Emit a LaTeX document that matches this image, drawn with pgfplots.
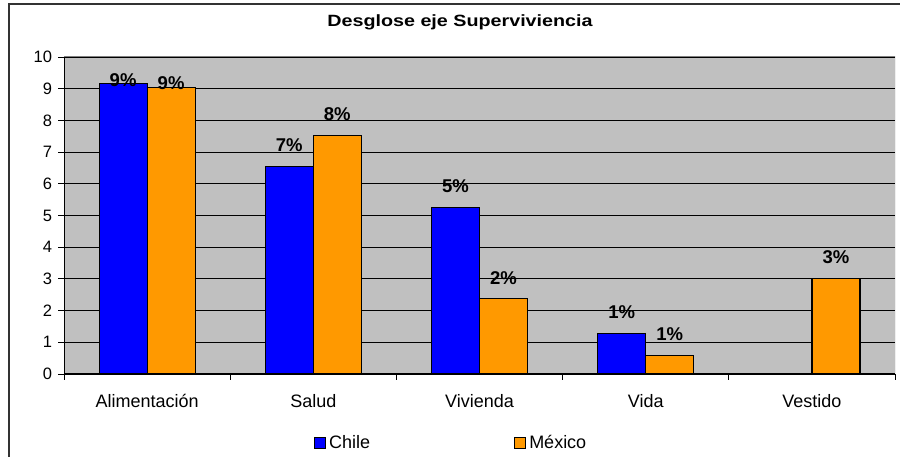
\documentclass[border=0pt]{standalone}
\usepackage{pgfplots}
\pgfplotsset{compat=1.18}
\usepackage{pgfplotstable}
\usepackage{fontspec}
\setmainfont{Liberation Sans}
\newfontfamily\titlefont{Liberation Sans}[FakeStretch=1.21]
\definecolor{chile}{HTML}{0000FF}
\definecolor{mexico}{HTML}{FF9900}
\definecolor{plotbg}{HTML}{C0C0C0}
\definecolor{bordergray}{HTML}{808080}

\pgfplotstableread{
x y lab off
0 9.16 9 3
1 6.55 7 21
2 5.26 5 21
3 1.29 1 21
}\chiledata
\pgfplotstableread{
x y lab off
0 9.05 9 4
1 7.53 8 21
2 2.37 2 21
3 0.59 1 21
4 3.02 3 21
}\mexicodata

\begin{document}
\begin{tikzpicture}[x=1pt,y=1pt]
\path[use as bounding box] (0,0) rectangle (900,457);
\draw[line width=1.2pt, color=black!80] (9,0) -- (9,453) -- (900,453);
\node[font=\titlefont\fontsize{16.3}{18}\selectfont\bfseries] at (460,435) {Desglose eje Superviviencia};
\begin{axis}[
  at={(64pt,83pt)}, anchor=south west,
  scale only axis, width=831pt, height=317pt,
  xmin=-0.5, xmax=4.5, ymin=0, ymax=10,
  ytick={0,...,10},
  xtick={-0.5,0.5,1.5,2.5,3.5,4.5}, xticklabels={},
  extra x ticks={0,1,2,3,4},
  extra x tick labels={Alimentación,Salud,Vivienda,Vida,Vestido},
  extra x tick style={major tick length=0pt, grid=none},
  tick align=outside, xtick pos=bottom, ytick pos=left,
  major tick length=6pt,
  tick style={black, line width=0.8pt},
  ymajorgrids, grid style={black, line width=0.8pt},
  axis background/.style={fill=plotbg},
  axis line style={draw=none},
  /pgf/number format/assume math mode=true,
  yticklabel style={font=\fontsize{16.5}{18}\selectfont, xshift=-2.5pt},
  xticklabel style={font=\fontsize{18}{20}\selectfont, yshift=-16.5pt},
  ybar=0pt, bar width=48pt,
  nodes near coords={\pgfplotspointmeta\%},
  point meta=explicit symbolic,
  visualization depends on={\thisrow{off} \as \myoff},
  every node near coord/.append style={font=\fontsize{18.5}{20}\selectfont\bfseries, anchor=center, yshift=\myoff},
  legend columns=2,
  legend style={at={(0.466,-0.216)}, anchor=center, draw=none, fill=none,
    font=\fontsize{18}{20}\selectfont,
    /tikz/every even column/.append style={column sep=142pt}},
  legend image code/.code={\draw[#1,draw=black,line width=0.8pt] (0pt,-5.5pt) rectangle (11pt,5.5pt); \path (12pt,0pt);},
]
\addplot[fill=chile, draw=black, line width=1.2pt] table[x=x,y=y,meta=lab]{\chiledata};
\addplot[fill=mexico, draw=black, line width=1.2pt] table[x=x,y=y,meta=lab]{\mexicodata};
\legend{Chile, México}
\draw[black, line width=1pt] (rel axis cs:0,1) -- (rel axis cs:0,0) -- (rel axis cs:1,0);
\draw[bordergray, line width=1pt] (rel axis cs:0,1) -- (rel axis cs:1,1) -- (rel axis cs:1,0);
\end{axis}
\end{tikzpicture}
\end{document}
